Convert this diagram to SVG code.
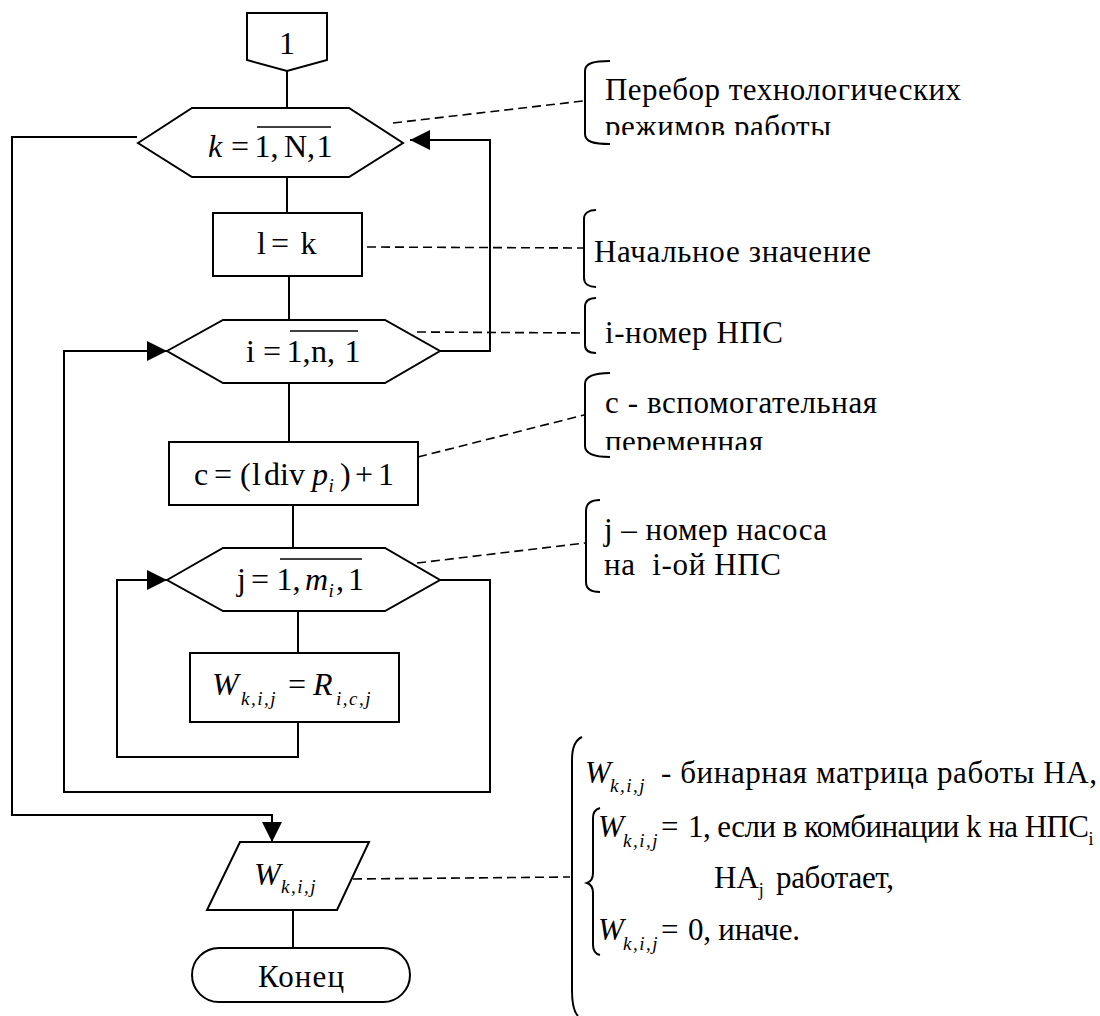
<svg xmlns="http://www.w3.org/2000/svg" width="1100" height="1016" viewBox="0 0 1100 1016">
<style>
.sh{fill:#fff;stroke:#000;stroke-width:2}
.ln{fill:none;stroke:#000;stroke-width:2}
.br{fill:none;stroke:#000;stroke-width:2}
.ds{fill:none;stroke:#000;stroke-width:1.6;stroke-dasharray:9,5}
.ov{stroke:#000;stroke-width:1.6}
text{font-family:"Liberation Serif","Times New Roman",serif;fill:#000}
.f{font-size:32px}
.a{font-size:31px}
.it{font-style:italic}
.sb{font-size:19px;font-style:italic;letter-spacing:1.5px}
.sbu{font-size:18px}
</style>
<defs>
<marker id="arr" markerUnits="userSpaceOnUse" markerWidth="20" markerHeight="20" refX="20" refY="10" orient="auto">
<path d="M0,0 L20,10 L0,20 Z" fill="#000"/>
</marker>
<clipPath id="c1"><rect x="590" y="60" width="500" height="75"/></clipPath>
<clipPath id="c2"><rect x="590" y="380" width="500" height="70"/></clipPath>
</defs>
<rect width="1100" height="1016" fill="#fff"/>

<g id="connectors">
<path class="ln" d="M287,71 V108"/>
<path class="ln" d="M287,177 V213"/>
<path class="ln" d="M289,276 V320"/>
<path class="ln" d="M440,351 H490 V140 H410" marker-end="url(#arr)"/>
<path class="ln" d="M289,383 V442"/>
<path class="ln" d="M293,505 V548"/>
<path class="ln" d="M298,611 V653"/>
<path class="ln" d="M298,722 V757 H117 V580 H167" marker-end="url(#arr)"/>
<path class="ln" d="M440,580 H490 V792 H64 V351 H167" marker-end="url(#arr)"/>
<path class="ln" d="M137,137 H12 V815 H272 V842" marker-end="url(#arr)"/>
<path class="ln" d="M293,910 V948"/>
<path class="ds" d="M393,123 L583,101"/>
<path class="ds" d="M367,247 L583,248"/>
<path class="ds" d="M417,332 L584,333"/>
<path class="ds" d="M418,457 L584,415"/>
<path class="ds" d="M417,563 L585,543"/>
<path class="ds" d="M353,879 L570,877"/>
</g>

<g id="n_connector1">
<path class="sh" d="M247,13 H327 V60 L287,71 L247,60 Z"/>
<text class="f" x="287" y="54" text-anchor="middle">1</text>
</g>

<g id="n_loop_k">
<path class="sh" d="M138,143 L192,108 L349,108 L403,143 L349,177 L192,177 Z"/>
<text class="f"><tspan class="it" x="208" y="157">k</tspan><tspan x="231" y="157">=</tspan><tspan x="254.5" y="157">1,</tspan><tspan x="284" y="157">N,</tspan><tspan x="316.5" y="157">1</tspan></text>
<line class="ov" x1="257" y1="127" x2="331" y2="127"/>
</g>

<g id="n_l_eq_k">
<rect class="sh" x="213" y="213" width="149" height="63"/>
<text class="f"><tspan x="257" y="254">l</tspan><tspan x="271" y="254">=</tspan><tspan x="300.5" y="254">k</tspan></text>
</g>

<g id="n_loop_i">
<path class="sh" d="M167,351 L223,320 L385,320 L440,351 L385,383 L223,383 Z"/>
<text class="f"><tspan x="246" y="362">i</tspan><tspan x="263" y="362">=</tspan><tspan x="286.5" y="362">1,</tspan><tspan x="311" y="362">n,</tspan><tspan x="344.5" y="362">1</tspan></text>
<line class="ov" x1="290" y1="331" x2="358" y2="331"/>
</g>

<g id="n_c">
<rect class="sh" x="169" y="442" width="249" height="63"/>
<text class="f"><tspan x="194" y="485">c</tspan><tspan x="214" y="485">=</tspan><tspan x="240" y="485">(</tspan><tspan x="252" y="485">l</tspan><tspan x="264" y="485">div</tspan><tspan class="it" x="312" y="485">p</tspan><tspan class="sb" x="328.5" y="492">i</tspan><tspan x="340" y="485">)</tspan><tspan x="355" y="485">+</tspan><tspan x="378" y="485">1</tspan></text>
</g>

<g id="n_loop_j">
<path class="sh" d="M167,580 L223,548 L385,548 L440,580 L385,611 L223,611 Z"/>
<text class="f"><tspan x="237" y="590">j</tspan><tspan x="251" y="590">=</tspan><tspan x="276.5" y="590">1,</tspan><tspan class="it" x="305" y="590">m</tspan><tspan class="sb" x="328.5" y="597">i</tspan><tspan x="336" y="590">,</tspan><tspan x="348" y="590">1</tspan></text>
<line class="ov" x1="280" y1="559" x2="362" y2="559"/>
</g>

<g id="n_assign_w">
<rect class="sh" x="190" y="653" width="209" height="69"/>
<text class="f"><tspan class="it" x="212" y="695">W</tspan><tspan class="sb" x="241" y="705">k,i,j</tspan><tspan x="288" y="695">=</tspan><tspan class="it" x="313" y="695">R</tspan><tspan class="sb" x="336" y="705">i,c,j</tspan></text>
</g>

<g id="n_output_w">
<path class="sh" d="M240,842 H369 L337,910 H207 Z"/>
<text class="f"><tspan class="it" x="254" y="885">W</tspan><tspan class="sb" x="281" y="893">k,i,j</tspan></text>
</g>

<g id="n_end">
<rect class="sh" x="192" y="948" width="218" height="54" rx="27" ry="27"/>
<text class="a" x="258" y="987" textLength="86">Конец</text>
</g>

<g id="note_k">
<path class="br" d="M610,61 C594,61 585,63 585,71 V134 C585,142 594,144 610,144"/>
<text class="a" x="605" y="100" textLength="356">Перебор технологических</text>
<text class="a" x="605" y="136.5" textLength="226" clip-path="url(#c1)">режимов работы</text>
</g>

<g id="note_l">
<path class="br" d="M596,210 C589,210 584,213 584,219 V278 C584,284 589,287 596,287"/>
<text class="a" x="594" y="262" textLength="277">Начальное значение</text>
</g>

<g id="note_i">
<path class="br" d="M596,298 C589,298 585,301 585,307 V345 C585,351 589,353 596,353"/>
<text class="a" x="605" y="343" textLength="178">i-номер НПС</text>
</g>

<g id="note_c">
<path class="br" d="M610,373 C594,373 585,376 585,384 V446 C585,454 594,457 610,457"/>
<text class="a" x="605" y="413" textLength="272">с - вспомогательная</text>
<text class="a" x="605" y="452" textLength="158" clip-path="url(#c2)">переменная</text>
</g>

<g id="note_j">
<path class="br" d="M600,500 C591,500 586,504 586,511 V582 C586,589 591,592 600,592"/>
<text class="a" x="604" y="540" textLength="223">j – номер насоса</text>
<text class="a" x="604" y="575" textLength="177" style="white-space:pre">на  i-ой НПС</text>
</g>

<g id="note_w">
<path class="br" d="M582,737 C575,740 572,748 572,760 V990 C572,1004 574,1012 578,1016"/>
<path class="br" d="M600,808 C596,809 593,812 593,818 V873 C593,879 590,882 587,883 C590,884 593,887 593,893 V945 C593,951 596,954 600,955"/>
<text class="a"><tspan class="it" x="585" y="783">W</tspan><tspan class="sb" x="610" y="792">k,i,j</tspan><tspan x="661" y="783" textLength="436">- бинарная матрица работы НА,</tspan></text>
<text class="a"><tspan class="it" x="598" y="837">W</tspan><tspan class="sb" x="623" y="847">k,i,j</tspan><tspan x="661" y="837">=</tspan><tspan x="688" y="837" textLength="401">1, если в комбинации k на НПС</tspan><tspan class="sbu" dy="8">i</tspan></text>
<text class="a"><tspan x="714" y="888">НА</tspan><tspan class="sbu" dy="8">j</tspan><tspan x="776" y="888" textLength="118">работает,</tspan></text>
<text class="a"><tspan class="it" x="598" y="940">W</tspan><tspan class="sb" x="623" y="950">k,i,j</tspan><tspan x="661" y="940">=</tspan><tspan x="688" y="940" textLength="112">0, иначе.</tspan></text>
</g>
</svg>
